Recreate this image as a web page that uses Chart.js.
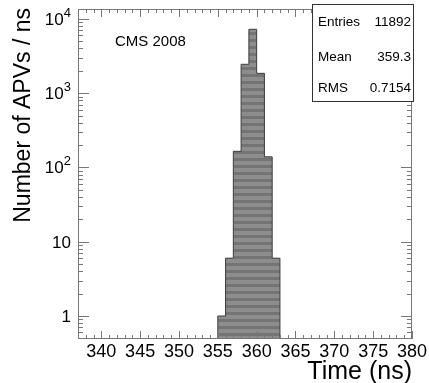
<!DOCTYPE html>
<html>
<head>
<meta charset="utf-8">
<script src="https://cdn.jsdelivr.net/npm/chart.js@4.4.0/dist/chart.umd.min.js"></script>
<style>
html, body { margin: 0; padding: 0; background: #fff; }
</style>
</head>
<body>
<canvas id="grafico_tempo" width="429" height="383"></canvas>
<script>
// dados do histograma (bins de 1 ns)
var binInicio = [355, 356, 357, 358, 359, 360, 361, 362];
var contagens = [1, 6, 165, 2450, 7250, 1850, 139, 6];
var larguraBin = 1;

var ticksX = [340, 345, 350, 355, 360, 365, 370, 375, 380];
var decadasY = [1, 10, 100, 1000, 10000];
var rotulosY = [["1", ""], ["10", ""], ["10", "2"], ["10", "3"], ["10", "4"]];

var estatNomes = ["Entries", "Mean", "RMS"];
var estatValores = ["11892", "359.3", "0.7154"];

var xMin = 337, xMax = 380;
var yMin = 0.49, yMax = 13600;

var fonte = "'Liberation Sans', Arial, Helvetica, sans-serif";

// padrao listrado do preenchimento
function criarPadrao() {
	var c = document.createElement("canvas");
	c.width = 4;
	c.height = 7;
	var g = c.getContext("2d");
	g.fillStyle = "#8d8d8d";
	g.fillRect(0, 0, 4, 4);
	g.fillStyle = "#747474";
	g.fillRect(0, 4, 4, 3);
	return g.createPattern(c, "repeat");
}

// pontos do contorno em degraus
var pontos = [{ x: binInicio[0], y: yMin }];
for (var i = 0; i < binInicio.length; i++) {
	pontos.push({ x: binInicio[i], y: contagens[i] });
}
pontos.push({ x: binInicio[binInicio.length - 1] + larguraBin, y: yMin });

var molduraRoot = {
	id: "molduraRoot",
	afterDatasetsDraw: function (chart) {
		var ctx = chart.ctx;
		var a = chart.chartArea;
		var sx = chart.scales.x;
		var sy = chart.scales.y;
		ctx.save();

		// moldura
		ctx.strokeStyle = "#777";
		ctx.lineWidth = 1;
		ctx.strokeRect(Math.round(a.left) + 0.5, Math.round(a.top) + 0.5,
			Math.round(a.right - a.left) - 1, Math.round(a.bottom - a.top) - 1);

		// ticks do eixo x (baixo e cima)
		ctx.beginPath();
		for (var v = Math.ceil(xMin); v <= xMax; v++) {
			var px = Math.round(sx.getPixelForValue(v)) + 0.5;
			var len = v % 5 === 0 ? 8 : 4;
			ctx.moveTo(px, a.bottom);
			ctx.lineTo(px, a.bottom - len);
			ctx.moveTo(px, a.top);
			ctx.lineTo(px, a.top + len);
		}
		// ticks do eixo y (esquerda e direita)
		for (var d = -1; d <= 4; d++) {
			for (var m = 1; m <= 9; m++) {
				var val = m * Math.pow(10, d);
				if (val < yMin || val > yMax) continue;
				var py = Math.round(sy.getPixelForValue(val)) + 0.5;
				var l = m === 1 ? 11 : 5;
				ctx.moveTo(a.left, py);
				ctx.lineTo(a.left + l, py);
				ctx.moveTo(a.right, py);
				ctx.lineTo(a.right - l, py);
			}
		}
		ctx.stroke();

		// rotulos do eixo y
		ctx.fillStyle = "#000";
		ctx.textBaseline = "alphabetic";
		ctx.textAlign = "right";
		decadasY.forEach(function (dec, k) {
			var py = sy.getPixelForValue(dec);
			var base = rotulosY[k][0];
			var sup = rotulosY[k][1];
			var xr = a.left - 7;
			if (sup) {
				ctx.font = "13px " + fonte;
				ctx.fillText(sup, xr, py - 2);
				xr -= ctx.measureText(sup).width;
			}
			ctx.font = "17px " + fonte;
			ctx.fillText(base, xr, py + 6);
		});

		// titulos dos eixos
		ctx.font = "25px " + fonte;
		ctx.textAlign = "right";
		ctx.fillText("Time (ns)", a.right, 379);
		ctx.save();
		ctx.font = "23px " + fonte;
		ctx.translate(30, 8);
		ctx.rotate(-Math.PI / 2);
		ctx.fillText("Number of APVs / ns", 0, 0);
		ctx.restore();

		// texto CMS
		ctx.font = "15px " + fonte;
		ctx.textAlign = "left";
		ctx.fillText("CMS 2008", 115, 46);

		// caixa de estatisticas
		ctx.fillStyle = "#fff";
		ctx.fillRect(312, 4, 101, 97);
		ctx.strokeStyle = "#333";
		ctx.strokeRect(312.5, 4.5, 101, 97);
		ctx.fillStyle = "#000";
		ctx.font = "13.5px " + fonte;
		var linhasY = [26, 61, 92];
		for (var j = 0; j < estatNomes.length; j++) {
			ctx.textAlign = "left";
			ctx.fillText(estatNomes[j], 318, linhasY[j]);
			ctx.textAlign = "right";
			ctx.fillText(estatValores[j], 411, linhasY[j]);
		}
		ctx.restore();
	},
};

var config = {
	type: "line",
	data: {
		datasets: [
			{
				data: pontos,
				stepped: "before",
				borderColor: "#3c3c3c",
				borderWidth: 1,
				backgroundColor: criarPadrao(),
				fill: "start",
				pointRadius: 0,
				tension: 0,
			},
		],
	},
	options: {
		responsive: false,
		animation: false,
		devicePixelRatio: 1,
		layout: { padding: { top: 9, right: 16, left: 0, bottom: 0 } },
		scales: {
			x: {
				type: "linear",
				min: xMin,
				max: xMax,
				grid: { display: false, drawTicks: false },
				border: { display: false },
				afterBuildTicks: function (s) {
					s.ticks = ticksX.map(function (v) { return { value: v }; });
				},
				afterFit: function (s) { s.height = 44; },
				ticks: {
					color: "#000",
					padding: 2,
					maxRotation: 0,
					autoSkip: false,
					font: { family: fonte, size: 18 },
				},
			},
			y: {
				type: "logarithmic",
				min: yMin,
				max: yMax,
				grid: { display: false, drawTicks: false },
				border: { display: false },
				ticks: { display: false },
				afterFit: function (s) { s.width = 78; },
			},
		},
		plugins: {
			legend: { display: false },
			tooltip: { enabled: false },
		},
	},
	plugins: [molduraRoot],
};

new Chart(document.getElementById("grafico_tempo"), config);
</script>
</body>
</html>
